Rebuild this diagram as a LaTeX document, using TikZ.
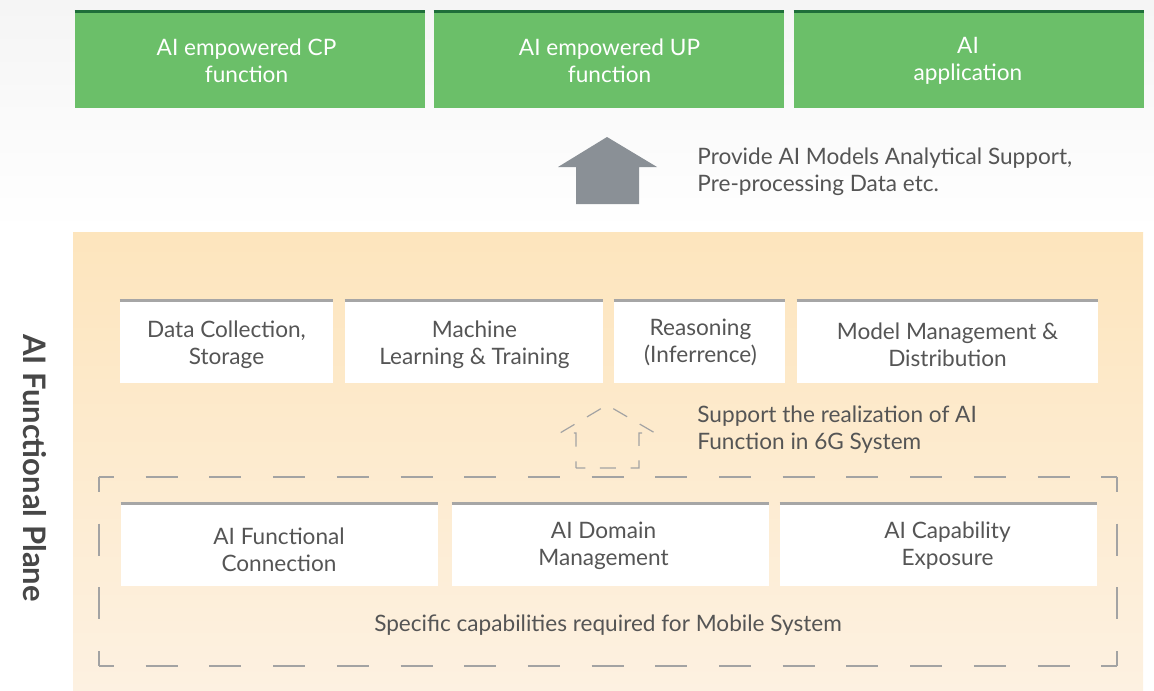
\documentclass[tikz,border=0pt]{standalone}
\usepackage{fontspec}
\setmainfont{Lato}
\definecolor{gfill}{HTML}{6BBF69}
\definecolor{gline}{HTML}{1F6E3A}
\definecolor{txt}{HTML}{555555}
\definecolor{titletxt}{HTML}{474747}
\definecolor{otop}{HTML}{FDE5BD}
\definecolor{obot}{HTML}{FDF1E1}
\definecolor{arrowgray}{HTML}{8A9096}
\definecolor{dashgray}{HTML}{A3A3A3}
\definecolor{topgray}{HTML}{A6A6A6}
\definecolor{shadowgray}{HTML}{D2D5DA}
\begin{document}
\begin{tikzpicture}[x=0.5pt,y=-0.5pt,
  boxfont/.style={font=\fontsize{11.3}{13.5}\selectfont},
  gbox/.style={boxfont, fill=gfill, minimum height=49pt, text=white, align=center, inner sep=0pt},
  wbox/.style={fill=white, minimum height=42pt, inner sep=0pt},
  wtext/.style={boxfont, text=txt, align=center, inner sep=0pt},
  gtop/.style={gline, line width=1.5pt},
  wtop/.style={topgray, line width=1.5pt},
  note/.style={boxfont, text=txt, align=left, anchor=west, inner sep=0pt},
  edge/.style={dashgray, line width=0.75pt, dash pattern=on 16pt off 15.85pt, dash phase=8.5pt},
  housedash/.style={dashgray, line width=0.6pt, dash pattern=on 8pt off 7.29pt, dash phase=4.66pt}]
\useasboundingbox (0,0) rectangle (1154,690);
% shadow band behind the top row
\shade[top color=black!4, middle color=shadowgray, bottom color=white] (0,0) rectangle (1154,232);
% orange panel
\shade[top color=otop, bottom color=obot] (73,232) rectangle (1143,690);

% top row
\node[gbox, minimum width=175pt] (cp) at (250,59) {};
\node[gbox, minimum width=175pt] (up) at (609,59) {};
\node[gbox, minimum width=175pt] (app) at (969,59) {};
\node[gbox, fill=none] (cpt) at (246.5,60.5) {AI empowered CP\\function};
\node[gbox, fill=none] (upt) at (609.5,60.5) {AI empowered UP\\function};
\node[gbox, fill=none] (appt) at (968,60.5) {AI\\application};
\foreach \n in {cp,up,app}{
  \draw[gtop] ([yshift=-0.75pt]\n.north west) -- ([yshift=-0.75pt]\n.north east);
}

% solid arrow
\fill[arrowgray] (576,204) -- (576,167) -- (558,167) -- (607,137) -- (657,167) -- (639,167) -- (639,204) -- cycle;
\node[note] (provide) at (697,172) {Provide AI Models Analytical Support,\\Pre-processing Data etc.};

% row 1
\node[wbox, minimum width=106.5pt] (dc) at (226.5,341) {};
\node[wbox, minimum width=129pt] (ml) at (474,341) {};
\node[wbox, minimum width=85.5pt] (rs) at (699.5,341) {};
\node[wbox, minimum width=150.5pt] (mm) at (947.5,341) {};
\foreach \n in {dc,ml,rs,mm}{
  \draw[wtop] ([yshift=-0.75pt]\n.north west) -- ([yshift=-0.75pt]\n.north east);
}
\node[wtext] (dct) at (226.5,345) {Data Collection,\\Storage};
\node[wtext] (mlt) at (474.5,345) {Machine\\Learning \& Training};
\node[wtext] (rst) at (700.5,342.5) {Reasoning\\(Inferrence)};
\node[wtext] (mmt) at (947.5,345) {Model Management \&\\Distribution};

% dashed house
\draw[housedash] (576,468) -- (576,433) -- (560,433) -- (607,405) -- (655,433) -- (639,433) -- (639,468) -- cycle;
\node[note] (support) at (697,429.5) {Support the realization of AI\\Function in 6G System};

% dashed frame
\coordinate (f1) at (99,477);
\coordinate (f2) at (1117,477);
\coordinate (f3) at (1117,666);
\coordinate (f4) at (99,666);
\draw[edge] (f1) -- (f2);
\draw[edge] (f4) -- (f3);
\draw[edge] (f1) -- (f4);
\draw[edge] (f2) -- (f3);

% row 2
\node[wbox, minimum width=158.5pt] (fc) at (279.5,544) {};
\node[wbox, minimum width=158.5pt] (dm) at (610.5,544) {};
\node[wbox, minimum width=158.5pt] (ce) at (938.5,544) {};
\foreach \n in {fc,dm,ce}{
  \draw[wtop] ([yshift=-0.75pt]\n.north west) -- ([yshift=-0.75pt]\n.north east);
}
\node[wtext] (fct) at (279,550) {AI Functional\\Connection};
\node[wtext] (dmt) at (603.5,545.5) {AI Domain\\Management};
\node[wtext] (cet) at (947.5,545.5) {AI Capability\\Exposure};
\node[boxfont, text=txt, inner sep=0pt] (spec) at (608,625) {Specific capabilities required for Mobile System};

% side title
\node[rotate=-90, text=titletxt, font=\bfseries\fontsize{15.5}{18}\selectfont, inner sep=0pt] (title) at (35,468) {AI Functional Plane};
\end{tikzpicture}
\end{document}
